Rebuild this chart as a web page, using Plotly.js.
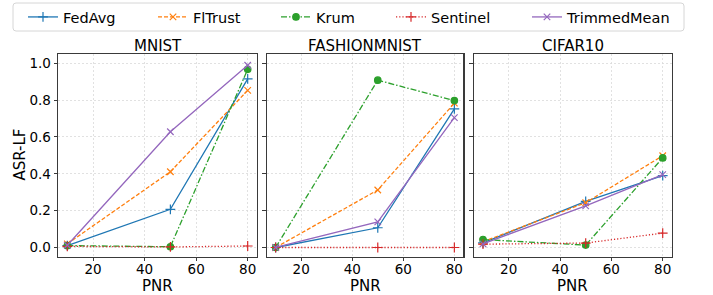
<!DOCTYPE html>
<html>
<head>
<meta charset="utf-8">
<script src="https://cdn.plot.ly/plotly-3.0.1.min.js"></script>
<style>html,body{margin:0;padding:0;background:#fff;}#chart{width:713px;height:295px;}</style>
</head>
<body>
<div id="chart"></div>
<script>
// ---- data ----
const pnr = [10, 50, 80];
const methods = ['FedAvg', 'FlTrust', 'Krum', 'Sentinel', 'TrimmedMean'];
const datasets = ['MNIST', 'FASHIONMNIST', 'CIFAR10'];
const xTicks = [20, 40, 60, 80];
const yTicks = [0.0, 0.2, 0.4, 0.6, 0.8, 1.0];

const mnistFedAvg      = [0.010, 0.207, 0.915];
const mnistFlTrust     = [0.020, 0.411, 0.853];
const mnistKrum        = [0.010, 0.004, 0.967];
const mnistSentinel    = [0.006, 0.003, 0.008];
const mnistTrimmedMean = [0.012, 0.628, 0.989];

const fashionFedAvg      = [0.000, 0.107, 0.752];
const fashionFlTrust     = [0.000, 0.312, 0.783];
const fashionKrum        = [0.000, 0.908, 0.797];
const fashionSentinel    = [0.000, 0.000, 0.000];
const fashionTrimmedMean = [0.000, 0.139, 0.705];

const cifarFedAvg      = [0.025, 0.250, 0.390];
const cifarFlTrust     = [0.031, 0.243, 0.498];
const cifarKrum        = [0.043, 0.013, 0.486];
const cifarSentinel    = [0.018, 0.024, 0.078];
const cifarTrimmedMean = [0.020, 0.226, 0.395];

const seriesByDataset = [
  [mnistFedAvg, mnistFlTrust, mnistKrum, mnistSentinel, mnistTrimmedMean],
  [fashionFedAvg, fashionFlTrust, fashionKrum, fashionSentinel, fashionTrimmedMean],
  [cifarFedAvg, cifarFlTrust, cifarKrum, cifarSentinel, cifarTrimmedMean]
];

// ---- styles ----
const colors = ['#1f77b4', '#ff7f0e', '#2ca02c', '#d62728', '#9467bd'];
const dashes = ['solid', '4px,2px', '6px,2px,1.5px,2px', '1.2px,2px', 'solid'];
const symbols = ['cross-thin-open', 'x-thin-open', 'circle', 'cross-thin-open', 'x-thin-open'];
const sizes = [7, 6.5, 6.5, 7, 6.5];
const legendTextX = [63, 193, 316, 431, 567];

const W = 713, H = 295;
const px = v => v / W, py = v => 1 - v / H;
const panelsX = [[58.3, 256.7], [266.7, 463.3], [474, 671.7]];
const panelY = [54, 256.7];
const yDomain = [py(panelY[1]), py(panelY[0])];

const traces = [];
datasets.forEach((ds, d) => {
  methods.forEach((m, i) => {
    traces.push({
      x: pnr, y: seriesByDataset[d][i],
      type: 'scatter', mode: 'lines+markers',
      name: m, legendgroup: m, showlegend: d === 0,
      legend: i === 0 ? 'legend' : 'legend' + (i + 1),
      xaxis: d === 0 ? 'x' : 'x' + (d + 1),
      yaxis: d === 0 ? 'y' : 'y' + (d + 1),
      line: {color: colors[i], width: 1.3, dash: dashes[i]},
      marker: {symbol: symbols[i], size: sizes[i], color: colors[i],
               line: {color: colors[i], width: 1.2}}
    });
  });
});

const font = {family: 'DejaVu Sans', size: 15, color: '#000'};
const tickFont = {family: 'DejaVu Sans', size: 13.5, color: '#000'};
const layout = {
  width: W, height: H,
  margin: {l: 0, r: 0, t: 0, b: 0},
  paper_bgcolor: '#fff', plot_bgcolor: '#fff',
  font: font,
  showlegend: true,
  annotations: [],
  shapes: []
};

methods.forEach((m, i) => {
  const key = i === 0 ? 'legend' : 'legend' + (i + 1);
  layout[key] = {
    orientation: 'h', x: px(legendTextX[i] - 40), xanchor: 'left',
    y: py(17), yanchor: 'middle',
    bgcolor: 'rgba(0,0,0,0)', borderwidth: 0,
    font: {family: 'DejaVu Sans', size: 14.5, color: '#000'},
    itemwidth: 30
  };
});

// legend frame (rounded rectangle)
(function () {
  const x0 = 13, x1 = 684, y0 = 3, y1 = 31, r = 3;
  const P = (x, y) => px(x) + ',' + py(y);
  layout.shapes.push({
    type: 'path', xref: 'paper', yref: 'paper', layer: 'below',
    path: 'M' + P(x0 + r, y0) + ' L' + P(x1 - r, y0) + ' Q' + P(x1, y0) + ' ' + P(x1, y0 + r) +
          ' L' + P(x1, y1 - r) + ' Q' + P(x1, y1) + ' ' + P(x1 - r, y1) +
          ' L' + P(x0 + r, y1) + ' Q' + P(x0, y1) + ' ' + P(x0, y1 - r) +
          ' L' + P(x0, y0 + r) + ' Q' + P(x0, y0) + ' ' + P(x0 + r, y0) + ' Z',
    line: {color: '#d6d6d6', width: 1}, fillcolor: '#fff'
  });
})();

datasets.forEach((ds, d) => {
  const xa = d === 0 ? 'xaxis' : 'xaxis' + (d + 1);
  const ya = d === 0 ? 'yaxis' : 'yaxis' + (d + 1);
  const dom = [px(panelsX[d][0]), px(panelsX[d][1])];
  layout[xa] = {
    domain: dom, anchor: d === 0 ? 'y' : 'y' + (d + 1),
    range: [6.5, 83.5], tickvals: xTicks, ticktext: xTicks.map(String),
    showline: true, mirror: true, linecolor: '#3a3a3a', linewidth: 1.2,
    ticks: 'outside', ticklen: 3.5, tickcolor: '#3a3a3a', tickwidth: 1,
    ticklabelstandoff: -4,
    showgrid: true, gridcolor: '#d9d9d9', gridwidth: 0.8, griddash: '2px,2px',
    zeroline: false, tickfont: tickFont, automargin: false
  };
  layout[ya] = {
    domain: yDomain, anchor: d === 0 ? 'x' : 'x' + (d + 1),
    range: [-0.05, 1.05], tickvals: yTicks, ticktext: yTicks.map(v => v.toFixed(1)),
    showticklabels: d === 0,
    showline: true, mirror: true, linecolor: '#3a3a3a', linewidth: 1.2,
    ticks: 'outside', ticklen: 3.5, tickcolor: '#3a3a3a', tickwidth: 1,
    showgrid: true, gridcolor: '#d9d9d9', gridwidth: 0.8, griddash: '2px,2px',
    zeroline: false, tickfont: tickFont, automargin: false
  };
  const cx = (dom[0] + dom[1]) / 2;
  layout.annotations.push({
    text: ds, xref: 'paper', yref: 'paper', x: cx, y: py(45.5),
    xanchor: 'center', yanchor: 'middle', showarrow: false, font: font
  });
  layout.annotations.push({
    text: 'PNR', xref: 'paper', yref: 'paper', x: cx, y: py(285.5),
    xanchor: 'center', yanchor: 'middle', showarrow: false, font: font
  });
});
layout.annotations.push({
  text: 'ASR-LF', xref: 'paper', yref: 'paper', x: px(19.5), y: py(155),
  xanchor: 'center', yanchor: 'middle', textangle: -90, showarrow: false, font: font
});

Plotly.newPlot('chart', traces, layout, {displayModeBar: false, staticPlot: true});
</script>
</body>
</html>
